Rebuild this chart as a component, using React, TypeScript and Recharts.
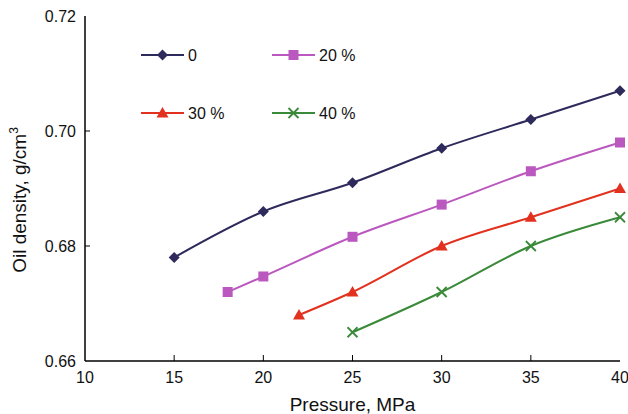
import React from 'react';
import { LineChart, Line, XAxis, YAxis } from 'recharts';

// pressure (MPa) / oil density (g/cm3) for each solvent fraction
const p0 = [15, 20, 25, 30, 35, 40];
const d0 = [0.678, 0.686, 0.691, 0.697, 0.702, 0.707];
const p20 = [18, 20, 25, 30, 35, 40];
const d20 = [0.672, 0.6747, 0.6816, 0.6872, 0.693, 0.698];
const p30 = [22, 25, 30, 35, 40];
const d30 = [0.668, 0.672, 0.68, 0.685, 0.69];
const p40 = [25, 30, 35, 40];
const d40 = [0.665, 0.672, 0.68, 0.685];

const xTicks = [10, 15, 20, 25, 30, 35, 40];
const yTicks = [0.66, 0.68, 0.7, 0.72];

const toRows = (xs: number[], ys: number[]) => xs.map((p, i) => ({ p, d: ys[i] }));

const FONT = '"Liberation Sans", Arial, sans-serif';

type Shape = 'diamond' | 'square' | 'triangle' | 'cross';

const series: { name: string; rows: { p: number; d: number }[]; color: string; shape: Shape }[] = [
  { name: '0', rows: toRows(p0, d0), color: '#2e2b5c', shape: 'diamond' },
  { name: '20 %', rows: toRows(p20, d20), color: '#bb58bf', shape: 'square' },
  { name: '30 %', rows: toRows(p30, d30), color: '#e2311f', shape: 'triangle' },
  { name: '40 %', rows: toRows(p40, d40), color: '#3a8a3a', shape: 'cross' },
];

function Marker({ cx, cy, color, shape }: { cx: number; cy: number; color: string; shape: Shape }) {
  if (cx == null || cy == null) return null;
  if (shape === 'diamond') {
    const r = 5.5;
    return <polygon points={`${cx},${cy - r} ${cx + r},${cy} ${cx},${cy + r} ${cx - r},${cy}`} fill={color} />;
  }
  if (shape === 'square') {
    return <rect x={cx - 5} y={cy - 5} width={10} height={10} fill={color} />;
  }
  if (shape === 'triangle') {
    return <polygon points={`${cx},${cy - 6} ${cx + 6},${cy + 4.5} ${cx - 6},${cy + 4.5}`} fill={color} />;
  }
  return (
    <g stroke={color} strokeWidth={1.8}>
      <line x1={cx - 5} y1={cy - 5} x2={cx + 5} y2={cy + 5} />
      <line x1={cx - 5} y1={cy + 5} x2={cx + 5} y2={cy - 5} />
    </g>
  );
}

const XTick = (props: any) => {
  const { x, y, payload } = props;
  return (
    <g>
      {payload.value !== 10 && payload.value !== 40 && <line x1={x} y1={y} x2={x} y2={y - 6} stroke="#000" strokeWidth={1} />}
      <text x={x} y={y + 22} textAnchor="middle" fontSize={16} fontFamily={FONT} fill="#111">{payload.value}</text>
    </g>
  );
};

const YTick = (props: any) => {
  const { x, y, payload } = props;
  return (
    <g>
      {payload.value !== 0.66 && payload.value !== 0.72 && <line x1={x} y1={y} x2={x + 5} y2={y} stroke="#000" strokeWidth={1} />}
      <text x={x - 9} y={y + 6} textAnchor="end" fontSize={16} fontFamily={FONT} fill="#111">{payload.value.toFixed(2)}</text>
    </g>
  );
};

// legend sits inside the plot, two columns by two rows
const LegendBox = () => (
  <g transform="translate(141,55)">
    {series.map((s, i) => {
      const x0 = (i % 2) * 131;
      const y0 = Math.floor(i / 2) * 58;
      return (
        <g key={s.name}>
          <line x1={x0} y1={y0} x2={x0 + 43} y2={y0} stroke={s.color} strokeWidth={2} />
          <Marker cx={x0 + 21.5} cy={y0} color={s.color} shape={s.shape} />
          <text x={x0 + 47} y={y0 + 6} fontSize={16} fontFamily={FONT} fill="#111">{s.name}</text>
        </g>
      );
    })}
  </g>
);

const YTitle = () => (
  <text transform="translate(26,200) rotate(-90)" textAnchor="middle" fontSize={19} fontFamily={FONT} fill="#111">
    Oil density, g/cm<tspan fontSize={12} dy={-8}>3</tspan>
  </text>
);

export default function App() {
  return (
    <div style={{ position: 'absolute', left: 0, top: 0, background: '#fff' }}>
      <LineChart width={628} height={414} margin={{ top: 16, right: 8, left: 0, bottom: 0 }}>
        <XAxis
          dataKey="p"
          type="number"
          domain={[10, 40]}
          ticks={xTicks}
          allowDuplicatedCategory={false}
          height={53}
          tickSize={0}
          tickMargin={0}
          tickLine={false}
          tick={<XTick />}
          axisLine={{ stroke: '#000', strokeWidth: 1.5 }}
          label={{ value: 'Pressure, MPa', position: 'insideBottom', offset: 3, fontSize: 19, fontFamily: FONT, fill: '#111' }}
        />
        <XAxis xAxisId="top" orientation="top" type="number" dataKey="p" domain={[10, 40]} height={0} tick={false} tickLine={false} axisLine={{ stroke: '#444', strokeWidth: 1 }} />
        <YAxis
          type="number"
          domain={[0.66, 0.72]}
          ticks={yTicks}
          width={85}
          tickSize={0}
          tickMargin={0}
          tickLine={false}
          tick={<YTick />}
          axisLine={{ stroke: '#000', strokeWidth: 1.5 }}
          allowDataOverflow
        />
        <YAxis yAxisId="right" orientation="right" type="number" domain={[0.66, 0.72]} width={0} tick={false} tickLine={false} axisLine={{ stroke: '#444', strokeWidth: 1 }} />
        {series.map((s) => (
          <Line
            key={s.name}
            data={s.rows}
            dataKey="d"
            name={s.name}
            type="monotone"
            stroke={s.color}
            strokeWidth={2}
            isAnimationActive={false}
            dot={(dp: any) => <Marker key={`${s.name}-${dp.index}`} cx={dp.cx} cy={dp.cy} color={s.color} shape={s.shape} />}
            activeDot={false}
          />
        ))}
        <LegendBox />
        <YTitle />
      </LineChart>
    </div>
  );
}
